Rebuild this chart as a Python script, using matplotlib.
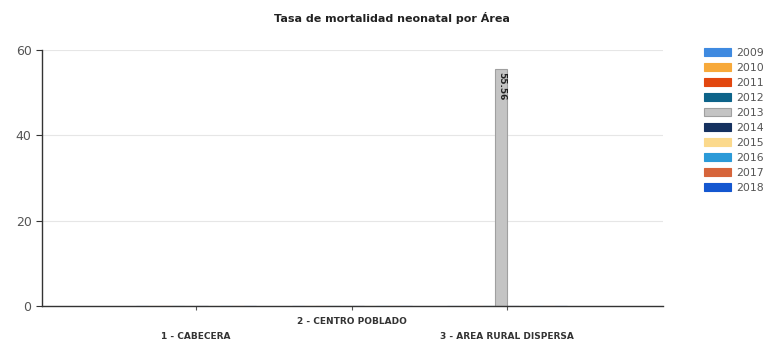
import matplotlib
matplotlib.use("Agg")
import matplotlib.pyplot as plt
import numpy as np

categories = ["1 - CABECERA", "2 - CENTRO POBLADO", "3 - AREA RURAL DISPERSA"]
years = ["2009", "2010", "2011", "2012", "2013", "2014", "2015", "2016", "2017", "2018"]
values = {
    "2009": [0, 0, 0],
    "2010": [0, 0, 0],
    "2011": [0, 0, 0],
    "2012": [0, 0, 0],
    "2013": [0, 0, 55.56],
    "2014": [0, 0, 0],
    "2015": [0, 0, 0],
    "2016": [0, 0, 0],
    "2017": [0, 0, 0],
    "2018": [0, 0, 0],
}
colors = ["#3f8ae0", "#f7a93a", "#e2470f", "#0d6389", "#c4c4c4",
          "#15315f", "#fbd98c", "#2b9ad8", "#d6653b", "#1457d0"]

fig = plt.figure(figsize=(7.67, 3.43), dpi=100)
ax = fig.add_axes([42/767, 1-306/343, (663-42)/767, (306-50)/343])

x = np.arange(len(categories))
w = 0.077
n = len(years)
for i, (yr, c) in enumerate(zip(years, colors)):
    offs = (i - (n - 1) / 2) * w
    bars = ax.bar(x + offs, values[yr], width=w, color=c,
                  edgecolor="#a0a0a0" if yr == "2013" else c, linewidth=0.8, label=yr)
    for b, v in zip(bars, values[yr]):
        if v > 0:
            ax.text(b.get_x() + b.get_width()/2, v - 0.7, f"{v:.2f}", rotation=-90,
                    ha="center", va="top", fontsize=6.5, fontweight="bold", color="#222222")

ax.set_xlim(-0.99, 3)
ax.set_ylim(0, 60)
ax.set_yticks([0, 20, 40, 60])
ax.grid(axis="y", color="#e6e6e6", linewidth=0.8)
ax.set_axisbelow(True)
for s in ["top", "right"]:
    ax.spines[s].set_visible(False)
for s in ["left", "bottom"]:
    ax.spines[s].set_color("#333333")
    ax.spines[s].set_linewidth(1.0)
ax.tick_params(axis="y", labelsize=9, colors="#333333", labelcolor="#555555", length=4)
ax.tick_params(axis="x", length=3, colors="#555555", pad=5)
ax.set_xticks(x)
lbls = ["\n" + categories[0], categories[1], "\n" + categories[2]]
ax.set_xticklabels(lbls, fontsize=6.5, fontweight="bold", color="#333333", linespacing=1.9)

fig.text(392/767, 1-18/343, "Tasa de mortalidad neonatal por Área", ha="center", va="center",
         fontsize=8, fontweight="bold", color="#222222")

leg = ax.legend(loc="upper left", bbox_to_anchor=(694/767, 1-38/343), bbox_transform=fig.transFigure,
                frameon=False, fontsize=7.8, handlelength=2.5, handleheight=0.75,
                labelspacing=0.46, handletextpad=0.5)
for t in leg.get_texts():
    t.set_color("#555555")

fig.savefig("out.png", dpi=100)
